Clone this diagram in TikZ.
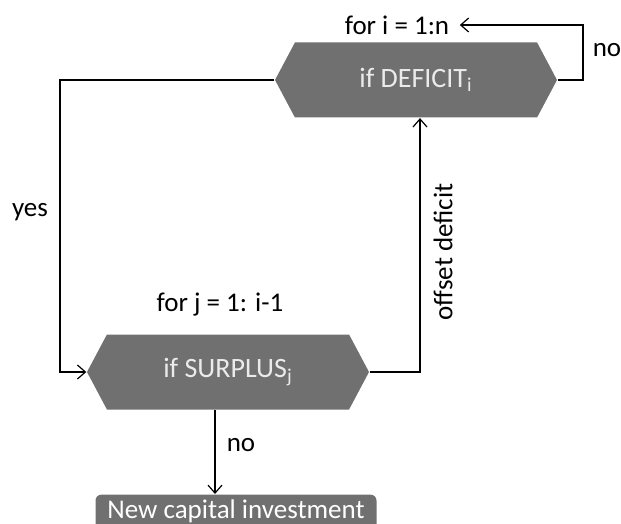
\documentclass[tikz,border=0pt]{standalone}
\usepackage{fontspec}
\setmainfont{Carlito}
\usetikzlibrary{shapes.symbols,arrows.meta}
\definecolor{boxgray}{RGB}{112,112,112}
\newcommand{\hexnode}[3]
{\node [hexbox] (#1) at (#2) {#3};
}
\begin{document}
\begin{tikzpicture}[x=0.5pt,y=-0.5pt,>={Straight Barb[length=4pt,width=7pt]},line width=0.6pt,
	hexbox/.style={signal,signal to=east and west,signal pointer angle=124,fill=boxgray,draw=none,
		text=white!92!black,minimum width=141pt,minimum height=37.5pt,inner sep=0pt,font=\fontsize{14}{16}\selectfont},
	lbl/.style={font=\fontsize{13.5}{15}\selectfont,inner sep=1pt}]

\useasboundingbox (0,0) rectangle (621,524);
\clip (0,0) rectangle (621,524);

\hexnode{deficit}{416,80}{if DEFICIT\textsubscript{i}}
\hexnode{surplus}{228,372}{if SURPLUS\textsubscript{j}}
\node [fill=boxgray,rounded corners=3pt,text=white,anchor=north,minimum width=140.5pt,minimum height=24pt,
	text height=9pt,text depth=9pt,inner sep=2pt,font=\fontsize{13.5}{15}\selectfont] (newcap) at (236,494) {New capital investment};

\node [lbl] (fori) at (397,25) {for i = 1:n};
\node [lbl] (forj) at (220,305) {for j = 1: i-1};

% yes branch
\coordinate (yescorner) at (60,80);
\draw [->] (deficit.west) -- (yescorner) |- (surplus.west);
\node [lbl] (yes) at (30,212) {yes};

% no branch back to loop over i
\coordinate (nocorner) at (583,80);
\draw [->] (deficit.east) -- (nocorner) |- ([xshift=4pt]fori.east);
\node [lbl] (noi) at (607,50) {no};

% offset deficit
\coordinate (offsetcorner) at (420,372);
\draw [->] (surplus.east) -- (offsetcorner) -- (offsetcorner |- deficit.south);
\node [lbl,rotate=90] (offset) at (443,252) {offset deficit};

% no surplus left
\coordinate (nostart) at (215,410);
\draw [->] (nostart) -- (nostart |- newcap.north);
\node [lbl] (noj) at (241,445) {no};
\end{tikzpicture}
\end{document}
